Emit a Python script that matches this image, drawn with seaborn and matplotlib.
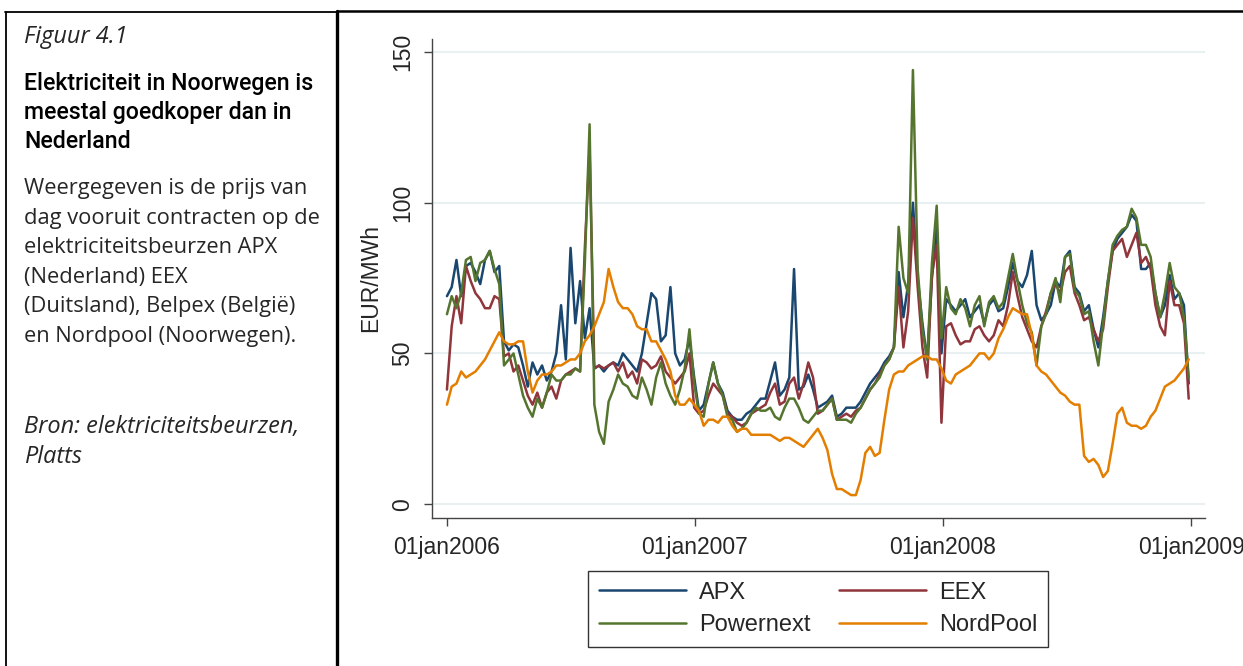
import numpy as np
import pandas as pd
import matplotlib
matplotlib.use('Agg')
import matplotlib.pyplot as plt
import matplotlib.dates as mdates
from matplotlib.lines import Line2D
from matplotlib.ticker import FuncFormatter
import seaborn as sns

# ---------------- data (weekly readings, EUR/MWh) ----------------
start_date = '2006-01-01'
n_weeks = 157
series_names = ['APX', 'EEX', 'Powernext', 'NordPool']

apx = [69, 72, 81, 69, 79, 80, 77, 73, 81, 84, 77, 79, 54, 51, 53, 52, 46, 39, 47, 43, 46, 41, 44, 50, 66, 48, 85,
       60, 74, 55, 65, 45, 46, 44, 46, 47, 46, 50, 48, 46, 44, 50, 60, 70, 68, 54, 56, 72, 50, 46, 48, 55, 42,
       31, 33, 40, 47, 40, 37, 31, 29, 28, 28, 30, 31, 33, 35, 35, 41, 47, 36, 38, 42, 78, 38, 39, 43, 38, 32,
       33, 34, 36, 29, 30, 32, 32, 32, 34, 37, 40, 42, 44, 47, 49, 52, 77, 62, 73, 100, 75, 60, 48, 75, 92, 50,
       68, 66, 64, 66, 68, 62, 64, 66, 60, 66, 68, 64, 65, 72, 80, 74, 72, 76, 84, 66, 61, 63, 66, 74, 72, 82,
       84, 72, 70, 64, 66, 58, 52, 62, 74, 84, 88, 90, 92, 96, 94, 78, 78, 80, 70, 62, 66, 76, 68, 70, 66, 40]

eex = [38, 59, 69, 60, 79, 74, 70, 68, 65, 65, 69, 68, 49, 50, 44, 46, 41, 36, 33, 37, 32, 37, 39, 35, 41, 43, 44,
       45, 44, 85, 118, 45, 46, 45, 46, 47, 44, 47, 42, 44, 40, 48, 47, 45, 46, 49, 44, 42, 40, 42, 44, 50, 32,
       30, 31, 36, 40, 38, 36, 30, 29, 27, 26, 27, 30, 31, 32, 33, 37, 40, 33, 34, 40, 42, 35, 40, 47, 42, 30,
       31, 33, 35, 28, 29, 30, 29, 31, 32, 35, 38, 40, 43, 46, 48, 52, 72, 52, 64, 95, 72, 52, 42, 76, 86, 27,
       59, 60, 56, 53, 54, 54, 58, 59, 56, 54, 56, 61, 59, 66, 77, 69, 62, 58, 54, 52, 59, 64, 70, 73, 70, 77,
       79, 70, 66, 61, 62, 58, 54, 58, 72, 84, 86, 88, 82, 86, 90, 80, 82, 78, 66, 59, 56, 74, 66, 66, 60, 35]

powernext = [63, 69, 65, 70, 81, 82, 74, 80, 81, 84, 78, 73, 46, 48, 50, 43, 36, 32, 29, 35, 32, 37, 43, 41, 41, 43, 43,
             45, 44, 80, 126, 33, 24, 20, 34, 38, 43, 40, 39, 36, 35, 42, 38, 33, 42, 47, 40, 36, 33, 38, 45, 58, 40,
             30, 29, 40, 47, 40, 36, 29, 28, 24, 25, 27, 30, 32, 31, 31, 32, 29, 28, 32, 35, 35, 32, 28, 27, 29, 31,
             31, 33, 35, 28, 28, 28, 27, 30, 32, 35, 38, 40, 42, 46, 48, 52, 92, 75, 70, 144, 78, 58, 48, 80, 99, 55,
             72, 65, 63, 68, 65, 59, 66, 69, 59, 67, 69, 65, 67, 75, 83, 74, 66, 60, 57, 46, 59, 63, 70, 75, 67, 82,
             83, 71, 69, 63, 64, 54, 46, 60, 74, 86, 89, 91, 92, 98, 95, 86, 86, 82, 70, 62, 70, 80, 72, 70, 62, 42]

nordpool = [33, 39, 40, 44, 42, 43, 44, 46, 48, 51, 54, 57, 54, 53, 53, 54, 54, 44, 37, 41, 43, 43, 44, 46, 46, 47, 48,
            48, 50, 54, 56, 59, 63, 67, 78, 72, 67, 65, 65, 63, 59, 58, 58, 54, 54, 51, 48, 44, 36, 33, 33, 35, 33,
            31, 26, 28, 28, 27, 29, 29, 26, 24, 25, 25, 23, 23, 23, 23, 23, 22, 21, 22, 22, 21, 20, 19, 21, 23, 25,
            22, 18, 10, 5, 5, 4, 3, 3, 8, 17, 19, 16, 17, 28, 38, 43, 44, 44, 46, 47, 48, 49, 49, 48, 48, 45,
            41, 40, 43, 44, 45, 46, 48, 50, 50, 48, 50, 55, 58, 62, 65, 64, 63, 63, 56, 46, 44, 43, 41, 39, 37, 36,
            34, 33, 33, 16, 14, 15, 13, 9, 11, 20, 30, 32, 27, 26, 26, 25, 26, 29, 31, 35, 39, 40, 41, 43, 45, 48]

y_ticks = [0, 50, 100, 150]
x_tick_dates = ['2006-01-01', '2007-01-01', '2008-01-01', '2009-01-01']

colors = {'APX': '#1a476f', 'EEX': '#90353b', 'Powernext': '#55752f', 'NordPool': '#e37e00'}

dates = pd.date_range(start_date, periods=n_weeks, freq='7D')
df = pd.concat([
    pd.DataFrame({'date': dates, 'price': vals, 'series': name})
    for name, vals in zip(series_names, [apx, eex, powernext, nordpool])
], ignore_index=True)

# ---------------- styling ----------------
sns.set_style('white')
plt.rcParams['font.family'] = ['Liberation Sans', 'DejaVu Sans']

W, H = 1243, 666
fig = plt.figure(figsize=(W / 100, H / 100), dpi=100)
fig.patch.set_facecolor('white')

ax = fig.add_axes([432 / W, 1 - 518 / H, (1205 - 432) / W, (518 - 39) / H])
sns.lineplot(data=df, x='date', y='price', hue='series', hue_order=series_names,
             palette=colors, linewidth=1.8, ax=ax, legend=False, estimator=None)

ax.set_ylim(-4.6, 154.3)
ax.set_xlim(pd.Timestamp('2005-12-10'), pd.Timestamp('2009-01-21'))
ax.set_yticks(y_ticks)
ax.set_xticks([pd.Timestamp(d) for d in x_tick_dates])
ax.xaxis.set_major_formatter(FuncFormatter(lambda v, p: mdates.num2date(v).strftime('%d%b%Y').lower()))
ax.grid(axis='y', color='#e8f0f2', linewidth=1.5)
ax.grid(axis='x', visible=False)
ax.set_axisbelow(True)
for s in ['top', 'right']:
    ax.spines[s].set_visible(False)
for s in ['left', 'bottom']:
    ax.spines[s].set_color('#444444')
    ax.spines[s].set_linewidth(1.0)
ax.tick_params(axis='both', which='major', length=6, width=1.0, color='#444444',
               labelsize=16.5, pad=7, direction='out', left=True, bottom=True)
plt.setp(ax.get_yticklabels(), rotation=90, va='center')
ax.set_xlabel('')
ax.set_ylabel('EUR/MWh', fontsize=16.5, labelpad=6)

handles = [Line2D([], [], color=colors[n], linewidth=1.8) for n in ['APX', 'Powernext', 'EEX', 'NordPool']]
labels = ['APX', 'Powernext', 'EEX', 'NordPool']
leg = fig.legend(handles, labels, ncol=2, loc='upper left',
                 bbox_to_anchor=(588 / W, 1 - 571 / H), fontsize=17,
                 frameon=True, fancybox=False, handlelength=3.7, handletextpad=0.55,
                 columnspacing=1.2, borderpad=0.45, labelspacing=0.45, borderaxespad=0)
leg.get_frame().set_edgecolor('black')
leg.get_frame().set_linewidth(1.0)

# ---------------- left text panel ----------------
def px(x, y):
    return x / W, 1 - y / H

fig.add_artist(Line2D([5.5 / W, 5.5 / W], [0, 1 - 12 / H], color='black', lw=1.3, transform=fig.transFigure))
fig.add_artist(Line2D([5 / W, 337 / W], [1 - 12 / H, 1 - 12 / H], color='black', lw=1.3, transform=fig.transFigure))
fig.add_artist(Line2D([337 / W, 337 / W], [0, 1 - 11 / H], color='black', lw=2.4, transform=fig.transFigure))
fig.add_artist(Line2D([337 / W, 1], [1 - 11 / H, 1 - 11 / H], color='black', lw=1.8, transform=fig.transFigure))

renderer = fig.canvas.get_renderer()


def fitted_size(text, family, base, target_px, **kw):
    t = fig.text(0, 0, text, fontsize=base, family=family, **kw)
    w = t.get_window_extent(renderer=renderer).width
    t.remove()
    return base * target_px / w


txt_font = ['Open Sans', 'DejaVu Sans']
title_font = ['Roboto', 'Liberation Sans']

fs_fig = fitted_size('Figuur 4.1', txt_font, 14, 104, style='italic')
fs_title = fitted_size('Elektriciteit in Noorwegen is', title_font, 15, 290, weight='medium')
fs_body = fitted_size('Weergegeven is de prijs van', txt_font, 14, 285)
fs_src = fitted_size('Bron: elektriciteitsbeurzen,', txt_font, 14, 276, style='italic')

fig.text(*px(24, 43), 'Figuur 4.1', fontsize=fs_fig, style='italic', family=txt_font,
         va='baseline', ha='left')
title_lines = ['Elektriciteit in Noorwegen is', 'meestal goedkoper dan in', 'Nederland']
for i, t in enumerate(title_lines):
    fig.text(*px(24, 90 + 29 * i), t, fontsize=fs_title, family=title_font, weight='medium',
             va='baseline', ha='left', color='black')
body_lines = ['Weergegeven is de prijs van', 'dag vooruit contracten op de', 'elektriciteitsbeurzen APX',
              '(Nederland) EEX', '(Duitsland), Belpex (België)', 'en Nordpool (Noorwegen).']
for i, t in enumerate(body_lines):
    fig.text(*px(24, 194 + 29.6 * i), t, fontsize=fs_body, family=txt_font, va='baseline', ha='left')
src_lines = ['Bron: elektriciteitsbeurzen,', 'Platts']
for i, t in enumerate(src_lines):
    fig.text(*px(24, 433 + 29.6 * i), t, fontsize=fs_src, style='italic', family=txt_font,
             va='baseline', ha='left')

fig.savefig('out.png', dpi=100, facecolor='white')
